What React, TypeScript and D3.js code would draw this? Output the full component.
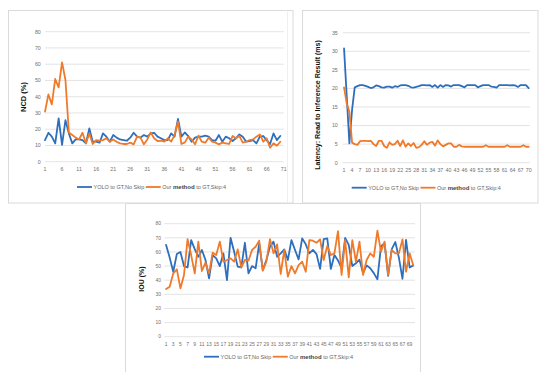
import React, { useRef, useEffect } from "react";
import * as d3 from "d3";

// NCD (%) per frame
const ncdYolo = [
  13.3, 17.8, 15.4, 11.3, 26.7, 10.3, 25.6, 17.4, 11.3, 13.7,
  13.7, 13.3, 11.3, 20.5, 12.3, 12.3, 11.7, 17.4, 15.4, 12.3,
  16.4, 14.8, 13.7, 13.3, 12.9, 14.8, 17.8, 15.4, 14.8, 16.4,
  15.4, 17.4, 17.8, 15.4, 14.4, 13.3, 13.3, 17.4, 15.4, 26.3,
  15.4, 18.0, 15.8, 12.3, 14.8, 15.4, 15.4, 16.0, 15.4, 13.3,
  12.9, 16.4, 12.3, 15.4, 14.4, 12.7, 14.4, 16.8, 15.4, 12.3,
  12.7, 13.3, 11.3, 15.4, 15.8, 13.3, 10.9, 17.4, 13.3, 15.8,
];
const ncdOurs = [
  30.8, 41.4, 35.3, 50.9, 45.7, 61.1, 50.3, 18.0, 16.4, 14.8,
  13.7, 17.8, 11.3, 17.4, 10.9, 13.3, 12.9, 13.3, 14.4, 12.3,
  13.7, 12.3, 11.3, 10.9, 10.9, 11.7, 10.7, 15.4, 14.8, 10.7,
  13.7, 18.0, 14.4, 12.7, 12.9, 12.3, 14.4, 12.3, 16.4, 24.6,
  10.9, 11.9, 15.4, 13.7, 10.7, 16.0, 12.3, 11.7, 14.8, 12.3,
  11.7, 10.7, 11.7, 11.3, 10.9, 15.8, 14.4, 15.8, 11.7, 12.3,
  13.3, 13.7, 15.4, 16.8, 12.3, 14.4, 8.6, 11.3, 9.8, 12.3,
];
const ncdYTicks = [0, 10, 20, 30, 40, 50, 60, 70, 80];
const ncdXLabels = [1, 6, 11, 16, 21, 26, 31, 36, 41, 46, 51, 56, 61, 66, 71];

// latency (ms)
const latYolo = [
  30.8, 18.0, 5.2, 14.2, 20.3,
  20.6, 20.9, 20.9, 20.7, 20.4, 20.1, 20.3, 20.8, 20.6, 20.3,
  20.2, 20.5, 20.5, 20.2, 20.6, 20.4, 20.8, 20.9, 20.9, 20.7,
  20.3, 20.2, 20.4, 20.6, 20.9, 20.9, 20.8, 20.9, 20.4, 20.9,
  20.2, 20.9, 20.4, 20.9, 20.8, 20.5, 20.9, 20.9, 20.9, 20.6,
  20.3, 20.9, 20.9, 20.9, 20.9, 20.3, 20.6, 20.9, 20.9, 20.9,
  20.5, 20.4, 20.2, 20.9, 20.9, 20.9, 20.9, 20.8, 20.9, 20.8,
  20.4, 20.9, 20.9, 20.9, 20.1,
];
const latOurs = [
  20.3, 16.0, 13.7, 5.4,
  5.0, 4.8, 5.8, 5.9, 5.9, 5.8, 5.9, 5.0, 4.5, 5.9,
  5.9, 4.5, 4.0, 5.5, 4.8, 5.0, 5.9, 4.5, 6.0, 4.3,
  5.2, 4.5, 5.3, 4.0, 4.2, 4.8, 5.8, 4.8, 5.4, 5.6,
  4.6, 6.0, 5.0, 4.4, 4.8, 5.2, 5.2, 4.3, 4.3, 4.8,
  4.4, 4.3, 4.3, 4.3, 4.3, 4.3, 4.3, 4.3, 4.3, 4.7,
  4.3, 4.3, 4.3, 4.3, 4.3, 4.3, 4.3, 4.7, 4.3, 4.3,
  4.3, 4.3, 4.3, 4.7, 4.3, 4.3,
];
const latYTicks = [0, 5, 10, 15, 20, 25, 30, 35];
const latXLabels = [1, 4, 7, 10, 13, 16, 19, 22, 25, 28, 31, 34, 37, 40, 43, 46, 49, 52, 55, 58, 61, 64, 67, 70];

// IOU (%)
const iouYolo = [
  65, 56, 46, 58.5, 60, 50, 49, 68.4, 62, 56.6,
  61.4, 54.3, 41.3, 57.8, 55.5, 50, 59, 40.1, 70, 60.2,
  49.6, 49, 66.5, 44.8, 50, 48.4, 66, 47.2, 54.3, 63.7,
  67.3, 56.6, 59, 61.8, 54.3, 68.4, 61.4, 54.7, 69.6, 65.4,
  59, 61.5, 58.5, 48, 69, 69.6, 48, 57.8, 54, 48.5,
  70, 65, 50, 52, 54.5, 45, 50.5, 48.5, 45, 40.6,
  64, 66, 43, 62, 67, 56, 41, 68.5, 49, 50.5,
];
const iouOurs = [
  33.7, 35.4, 44.8, 47.7, 34.2, 43.7, 69.1, 57.8, 44.8, 67.3,
  46.5, 52.4, 44.8, 59.5, 57.8, 67.3, 53.1, 54.3, 55.5, 53.1,
  61.8, 49.1, 54.3, 53.8, 61.4, 63.7, 68, 46.7, 53.1, 69.1,
  59, 65.4, 44.4, 61.4, 42.5, 50, 44.8, 50.7, 53.1, 46,
  68.4, 68, 66.5, 68.9, 54.3, 64.2, 57.8, 59, 74.8, 43.7,
  68.4, 42, 68.4, 53.1, 67.3, 43.7, 54.3, 59, 56.6, 75,
  60.2, 67.3, 43.7, 61.4, 59, 59, 68.9, 46, 59, 50.7,
];
const iouYTicks = [0, 10, 20, 30, 40, 50, 60, 70, 80];
const iouXLabels = [1, 3, 5, 7, 9, 11, 13, 15, 17, 19, 21, 23, 25, 27, 29, 31, 33, 35, 37, 39, 41, 43, 45, 47, 49, 51, 53, 55, 57, 59, 61, 63, 65, 67, 69];

const seriesNames = ["YOLO to GT,No Skip", "Our method to GT,Skip:4"];
const blue = "#2e6fbd";
const orange = "#f07a2a";
const font = "'Liberation Sans', Arial, sans-serif";

const drawChart = (svg, o) => {
  const g = svg.append("g");
  const x = d3.scalePoint().domain(d3.range(1, o.nCat + 1)).range([o.left, o.right]).padding(o.pad);
  const y = d3.scaleLinear().domain([0, o.yMax]).range([o.bottom, o.top]);

  g.selectAll(".grid").data(o.yTicks).join("line")
    .attr("x1", o.left).attr("x2", o.right)
    .attr("y1", d => y(d)).attr("y2", d => y(d))
    .attr("stroke", "#dcdcdc").attr("stroke-width", 0.8);

  g.selectAll(".yl").data(o.yTicks).join("text")
    .attr("x", o.yLabelX).attr("y", d => y(d)).attr("dy", "0.35em")
    .attr("text-anchor", "end").attr("font-size", o.tick).attr("fill", "#707070")
    .attr("font-family", font).text(d => d);

  g.selectAll(".xl").data(o.xLabels).join("text")
    .attr("x", d => x(d)).attr("y", o.xLabelY).attr("dy", "0.35em")
    .attr("text-anchor", "middle").attr("font-size", o.tick).attr("fill", "#707070")
    .attr("font-family", font).text(d => d);

  g.append("text")
    .attr("transform", `translate(${o.titleX},${o.titleY}) rotate(-90)`)
    .attr("text-anchor", "middle").attr("dy", "0.35em")
    .attr("font-size", o.titleSize).attr("font-weight", "bold").attr("fill", "#111")
    .attr("font-family", font).text(o.title);

  const line = d3.line().x((d, i) => x(i + 1)).y(d => y(d)).curve(d3.curveLinear);
  [[o.yolo, blue], [o.ours, orange]].forEach(([data, c]) => {
    g.append("path").attr("d", line(data)).attr("fill", "none")
      .attr("stroke", c).attr("stroke-width", 1.8)
      .attr("stroke-linejoin", "round").attr("stroke-linecap", "round");
  });

  // legend
  let lx = o.legendX;
  seriesNames.forEach((name, i) => {
    g.append("line").attr("x1", lx).attr("x2", lx + 15)
      .attr("y1", o.legendY).attr("y2", o.legendY)
      .attr("stroke", i === 0 ? blue : orange).attr("stroke-width", 1.8);
    lx += 16.5;
    const t = g.append("text").attr("x", lx).attr("y", o.legendY).attr("dy", "0.35em")
      .attr("font-size", 5.5).attr("fill", "#666").attr("font-family", font);
    if (i === 0) t.text(name);
    else {
      t.append("tspan").text("Our ");
      t.append("tspan").attr("font-weight", "bold").attr("fill", "#444").attr("font-size", 6).text("method");
      t.append("tspan").text(" to GT,Skip:4");
    }
    lx += t.node().getComputedTextLength() + 1.5;
  });
};

export default function App() {
  const svgRef = useRef(null);

  useEffect(() => {
    const svg = d3.select(svgRef.current);
    svg.selectAll("*").remove();

    // panel frames
    const fr = svg.append("g").attr("stroke", "#dadada").attr("stroke-width", 1).attr("fill", "none");
    fr.append("rect").attr("x", 8.5).attr("y", 10.5).attr("width", 284.5).attr("height", 192.5);
    fr.append("line").attr("x1", 287.5).attr("x2", 287.5).attr("y1", 12).attr("y2", 203).attr("stroke", "#efefef");
    fr.append("rect").attr("x", 302.5).attr("y", 10.5).attr("width", 235.5).attr("height", 192.5);
    fr.append("path").attr("d", "M125.5,372 V203.5 H420.5 V372");

    drawChart(svg, {
      left: 45, right: 283.7, top: 31.7, bottom: 161.7, nCat: 71, pad: 0,
      yMax: 80, yTicks: ncdYTicks, xLabels: ncdXLabels, tick: 5.3,
      yLabelX: 40.8, xLabelY: 169.5,
      title: "NCD (%)", titleX: 23, titleY: 97, titleSize: 7.5,
      yolo: ncdYolo, ours: ncdOurs, legendX: 77, legendY: 187,
    });

    drawChart(svg, {
      left: 342.7, right: 530, top: 32.7, bottom: 162.7, nCat: 70, pad: 0.5,
      yMax: 35, yTicks: latYTicks, xLabels: latXLabels, tick: 5.3,
      yLabelX: 337.8, xLabelY: 170,
      title: "Latency: Read to Inference Result (ms)", titleX: 318, titleY: 105, titleSize: 7,
      yolo: latYolo, ours: latOurs, legendX: 351.7, legendY: 187.7,
    });

    drawChart(svg, {
      left: 164.3, right: 415, top: 223.7, bottom: 336.7, nCat: 70, pad: 0.5,
      yMax: 80, yTicks: iouYTicks, xLabels: iouXLabels, tick: 5,
      yLabelX: 161, xLabelY: 344,
      title: "IOU (%)", titleX: 141.7, titleY: 279, titleSize: 7,
      yolo: iouYolo, ours: iouOurs, legendX: 204, legendY: 356.7,
    });
  }, []);

  return (
    <svg ref={svgRef} width={550} height={378}
      style={{ position: "absolute", left: 0, top: 0, background: "#fff" }} />
  );
}
